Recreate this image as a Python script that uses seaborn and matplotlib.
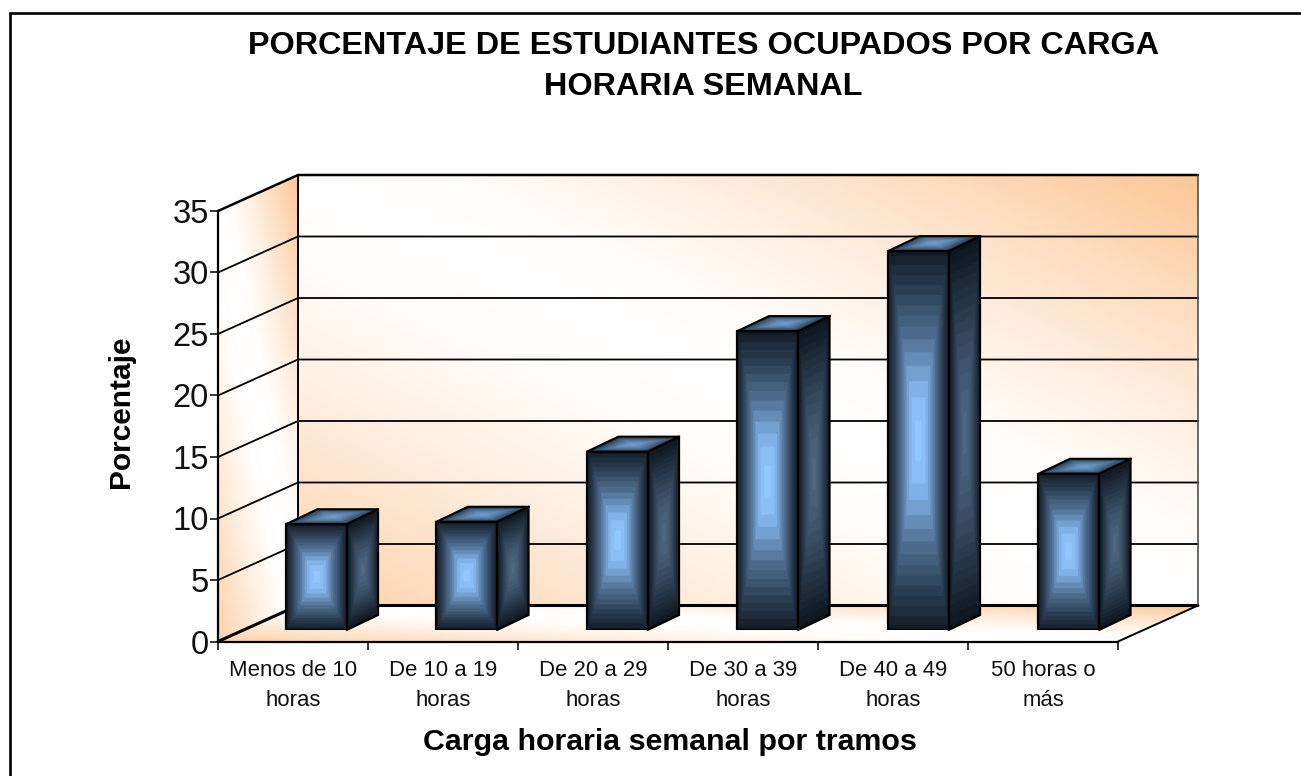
import numpy as np
import pandas as pd
import matplotlib
matplotlib.use('Agg')
import matplotlib.pyplot as plt
import seaborn as sns
from matplotlib.colors import LinearSegmentedColormap
from matplotlib.lines import Line2D
from matplotlib.patches import Polygon

# datos
categorias = ['Menos de 10\nhoras', 'De 10 a 19\nhoras', 'De 20 a 29\nhoras',
              'De 30 a 39\nhoras', 'De 40 a 49\nhoras', '50 horas o\nmás']
porcentajes = [8.6, 8.8, 14.5, 24.3, 30.8, 12.7]
ticks_y = [0, 5, 10, 15, 20, 25, 30, 35]

titulo = 'PORCENTAJE DE ESTUDIANTES OCUPADOS POR CARGA\nHORARIA SEMANAL'
etiqueta_x = 'Carga horaria semanal por tramos'
etiqueta_y = 'Porcentaje'

W, H = 1301, 776

sns.set_theme(style='white')
plt.rcParams['font.family'] = ['Liberation Sans', 'DejaVu Sans']

fig = plt.figure(figsize=(W / 100, H / 100), dpi=100, facecolor='white')


def caja(x0, x1, y_abajo, y_arriba):
    # caja en pixeles (y hacia abajo) -> fracciones de la figura
    return [x0 / W, 1 - y_abajo / H, (x1 - x0) / W, (y_abajo - y_arriba) / H]


naranja = LinearSegmentedColormap.from_list(
    'naranja', [(0, '#ffffff'), (0.15, '#fffdfb'), (0.4, '#fff0e3'), (0.7, '#fedcbd'), (1, '#fdc795')])
frente_cm = LinearSegmentedColormap.from_list(
    'frente', [(0, '#131b24'), (0.28, '#2b3d52'), (0.6, '#4f6f92'), (0.88, '#86b8ee'), (1, '#92c7ff')])
lado_cm = LinearSegmentedColormap.from_list('lado', ['#0e141b', '#2a3b4e', '#4f6784'])
tapa_cm = LinearSegmentedColormap.from_list('tapa', ['#243445', '#4a6b8d', '#6f9ccb'])


def degradado(ax, origen, a, b, funcion, cmap, zorder):
    # rellena el paralelogramo origen + u*a + v*b con funcion(u, v)
    origen, a, b = np.array(origen, float), np.array(a, float), np.array(b, float)
    esquinas = np.array([origen, origen + a, origen + b, origen + a + b])
    x0, y0 = esquinas.min(axis=0)
    x1, y1 = esquinas.max(axis=0)
    xs, ys = np.meshgrid(np.linspace(x0, x1, 300), np.linspace(y0, y1, 300))
    inv = np.linalg.inv(np.array([a, b]).T)
    u = inv[0, 0] * (xs - origen[0]) + inv[0, 1] * (ys - origen[1])
    v = inv[1, 0] * (xs - origen[0]) + inv[1, 1] * (ys - origen[1])
    im = ax.imshow(funcion(u, v), extent=(x0, x1, y0, y1), origin='lower', aspect='auto',
                   cmap=cmap, vmin=0, vmax=1, zorder=zorder, interpolation='bilinear')
    forma = Polygon([origen, origen + a, origen + a + b, origen + b], closed=True,
                    transform=ax.transData, facecolor='none', edgecolor='none')
    im.set_clip_path(forma)
    im.set_clip_box(fig.bbox)
    return im


def diagonal(u, v):
    # la esquina inferior izquierda es un poco mas suave
    t = u + v - 1
    return np.clip(np.where(t > 0, t, -0.85 * t), 0, 1)


def rectangular(u, v):
    d = np.clip(np.maximum(np.abs(2 * u - 1), np.abs(2 * v - 1)), 0, 1)
    t = 1 - d ** 1.5
    return np.round(t * 14) / 14


# ---- paredes, piso y rejilla (plano frontal: 218-1118 px, 0 en 641.5 y 35 en 211)
ax = fig.add_axes(caja(218, 1118, 641.5, 211))
ax.set_xlim(-0.5, 5.5)
ax.set_ylim(0, 35)
ax.patch.set_alpha(0)

fx = 80 / 150   # profundidad de la sala en unidades de datos
fy = 36 / 12.3

degradado(ax, (-0.5 + fx, fy), (6, 0), (0, 35), diagonal, naranja, 0)
degradado(ax, (-0.5, 0), (fx, fy), (0, 35), diagonal, naranja, 0)
degradado(ax, (-0.5, 0), (6, 0), (fx, fy), diagonal, naranja, 0)
ax.set_xlim(-0.5, 5.5)
ax.set_ylim(0, 35)

for v in ticks_y[1:-1]:
    ax.plot([-0.5, -0.5 + fx, 5.5 + fx], [v, v + fy, v + fy], color='black', lw=1.3,
            clip_on=False, zorder=1, solid_joinstyle='miter')
# bordes de la sala
ax.plot([-0.5, -0.5 + fx, 5.5 + fx], [35, 35 + fy, 35 + fy], color='black', lw=1.8, clip_on=False, zorder=2)
ax.plot([-0.5, -0.5 + fx, 5.5 + fx], [0, fy, fy], color='black', lw=2.2, clip_on=False, zorder=2)
ax.plot([-0.5 + fx, -0.5 + fx], [fy, 35 + fy], color='black', lw=1.4, clip_on=False, zorder=2)
ax.plot([5.5 + fx, 5.5 + fx], [fy, 35 + fy], color='#444444', lw=1.1, clip_on=False, zorder=2)
ax.plot([5.5, 5.5 + fx], [0, fy], color='black', lw=1.4, clip_on=False, zorder=2)

sns.despine(ax=ax, top=True, right=True)
for lado in ['left', 'bottom']:
    ax.spines[lado].set_color('black')
    ax.spines[lado].set_linewidth(1.6)

ax.set_yticks(ticks_y)
ax.tick_params(axis='y', which='major', left=True, length=6, width=1.1, color='black',
               labelsize=23.5, pad=0.5, labelcolor='#111111')
ax.set_xticks(np.arange(-0.5, 6, 1))
ax.set_xticklabels([])
ax.tick_params(axis='x', which='major', bottom=True, length=6, width=1.1, color='black')
ax.set_xticks(np.arange(6), labels=categorias, minor=True)
ax.tick_params(axis='x', which='minor', bottom=False, length=0, labelsize=15.9, pad=13,
               labelcolor='#111111')
for t in ax.get_xticklabels(minor=True):
    t.set_linespacing(1.57)

# ---- barras: mismo rango, desplazadas hacia adentro de la sala
ax_b = fig.add_axes(caja(241, 1144, 630, 630 - 35 * 12.3))
ax_b.patch.set_alpha(0)
df = pd.DataFrame({'categoria': categorias, 'porcentaje': porcentajes})
sns.barplot(data=df, x='categoria', y='porcentaje', width=0.403, ax=ax_b,
            facecolor='none', edgecolor='black', linewidth=1.6, zorder=5)

dx = 31.5 / 150.5
dy = 15 / 12.3
for barra in ax_b.patches:
    x0, ancho, alto = barra.get_x(), barra.get_width(), barra.get_height()
    degradado(ax_b, (x0, 0), (ancho, 0), (0, alto), rectangular, frente_cm, 2)
    degradado(ax_b, (x0 + ancho, 0), (dx, dy), (0, alto), rectangular, lado_cm, 2)
    degradado(ax_b, (x0, alto), (ancho, 0), (dx, dy), rectangular, tapa_cm, 2)
    contorno = [(x0 + ancho, 0), (x0 + ancho + dx, dy), (x0 + ancho + dx, alto + dy),
                (x0 + dx, alto + dy), (x0, alto), (x0 + ancho, alto), (x0 + ancho + dx, alto + dy)]
    ax_b.plot(*zip(*contorno), color='black', lw=1.5, zorder=6, clip_on=False,
              solid_joinstyle='miter')

ax_b.set_xlim(-0.5, 5.5)
ax_b.set_ylim(0, 35)
ax_b.axis('off')

# ---- textos y marco
fig.text(703 / W, 1 - 66.5 / H, titulo, ha='center', va='center', fontsize=23.3, fontweight='bold',
         color='black', linespacing=1.49)
fig.text(670 / W, 1 - 742 / H, etiqueta_x, ha='center', va='center', fontsize=21.9,
         fontweight='bold', color='black')
fig.text(121 / W, 1 - 412 / H, etiqueta_y, ha='center', va='center', rotation=90, fontsize=21.5,
         fontweight='bold', color='black')

fig.add_artist(Line2D([10 / W, 10 / W, 1], [0, 1 - 13 / H, 1 - 13 / H], color='black', lw=1.9,
                      transform=fig.transFigure, solid_joinstyle='miter'))

fig.savefig('out.png', dpi=100)
